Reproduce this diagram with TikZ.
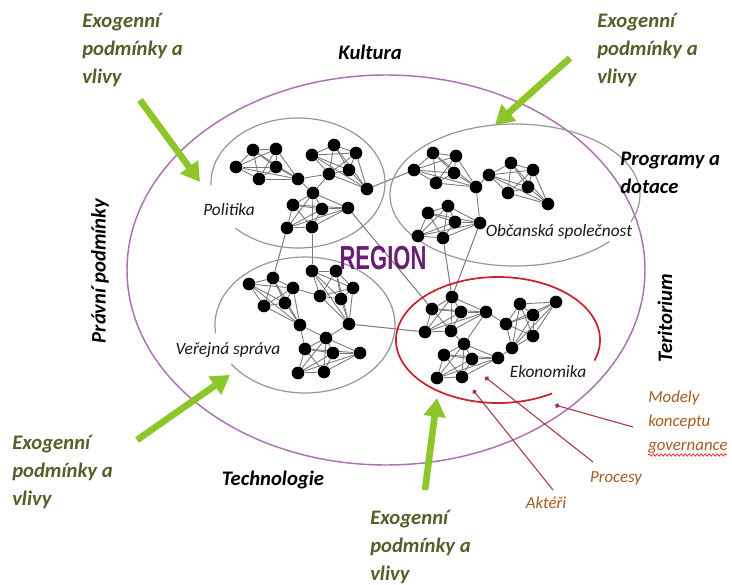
\documentclass[tikz,border=0pt]{standalone}
\usepackage{fontspec}
\setmainfont{Carlito}
\newfontfamily\regfont{Liberation Sans}
\usetikzlibrary{arrows.meta,backgrounds,decorations.pathmorphing}
\definecolor{purpl}{RGB}{172,112,182}
\definecolor{exogreen}{RGB}{82,96,42}
\definecolor{arrgreen}{RGB}{140,198,40}
\definecolor{meshgray}{RGB}{120,120,120}
\definecolor{circgray}{RGB}{150,150,150}
\definecolor{ekored}{RGB}{200,35,45}
\definecolor{linkred}{RGB}{170,50,70}
\definecolor{brownlab}{RGB}{165,90,30}
\definecolor{regpurple}{RGB}{105,30,115}
\tikzset{
 dot/.style={circle,fill=black,inner sep=0pt,minimum size=9.5pt},
 mesh/.style={draw=meshgray,line width=0.65pt},
 bigmesh/.style={draw=meshgray,line width=0.75pt},
 grcirc/.style={draw=circgray,line width=0.9pt},
 exo/.style={text=exogreen,font=\fontsize{15.5}{21}\selectfont\bfseries\itshape,align=left,anchor=west,inner sep=0pt},
 blab/.style={text=black,font=\fontsize{15.5}{20.5}\selectfont\bfseries\itshape,inner sep=0pt},
 ilab/.style={text=black!90,font=\fontsize{13}{15}\selectfont\itshape,inner sep=0pt},
 rlab/.style={text=brownlab,font=\fontsize{12.6}{18}\selectfont\itshape,inner sep=0pt},
 garrow/.style={draw=arrgreen,line width=5pt,-{Triangle[length=14pt,width=16pt]}},
 rlink/.style={draw=linkred,line width=0.8pt,-{Circle[length=3.5pt]}},
}
\newcommand\meshcl[1]{%
 \foreach \i in {1,...,5}{%
   \pgfmathtruncatemacro\nxt{\i+1}%
   \foreach \j in {\nxt,...,6}{\draw[mesh] (#1\i) -- (#1\j);}}}
\begin{document}
\begin{tikzpicture}[x=0.75pt,y=-0.75pt]
\useasboundingbox (0,0) rectangle (732,585);

% big purple ellipse
\draw[purpl,line width=1.1pt] (386,270) ellipse [x radius=259, y radius=195];

% gray circles
\draw[grcirc] ([shift={(178:87 and 65)}]298,183) arc[start angle=178,end angle=496,x radius=87,y radius=65];
\draw[grcirc] ([shift={(173:90 and 68)}]305,325) arc[start angle=173,end angle=505,x radius=90,y radius=68];
\draw[grcirc] ([shift={(41:125 and 71)}]515,195) arc[start angle=41,end angle=382,x radius=125,y radius=71];
% red ellipse
\draw[ekored,line width=1.3pt] ([shift={(58:102 and 63)}]498,340) arc[start angle=58,end angle=379,x radius=102,y radius=63];

% network nodes
\foreach \n/\x/\y in {pa1/253/150,pa2/276/149,pa3/236/167,pa4/276/167,pa5/259/179,pa6/298/179,
 pb1/334/145,pb2/312/155,pb3/356/153,pb4/349/170,pb5/329/174,pb6/367/189,
 pc1/313/193,pc2/293/205,pc3/322/209,pc4/348/208,pc5/287/228,pc6/312/227,
 oa1/433/153,oa2/456/156,oa3/414/170,oa4/454/173,oa5/436/183,oa6/476/187,
 ob1/511/163,ob2/533/170,ob3/489/175,ob4/528/187,ob5/508/193,ob6/548/204,
 oc1/448/206,oc2/428/213,oc3/455/222,oc4/480/223,oc5/418/236,oc6/443/238,
 va1/249/284,va2/273/278,va3/293/288,va4/264/306,va5/285/303,va6/300/325,
 vb1/312/271,vb2/336/271,vb3/353/288,vb4/320/296,vb5/341/299,vb6/349/324,
 vc1/326/338,vc2/305/349,vc3/333/353,vc4/360/353,vc5/298/373,vc6/324/372,
 ea1/452/297,ea2/432/309,ea3/461/312,ea4/486/312,ea5/425/332,ea6/451/331,
 eb1/520/304,eb2/556/302,eb3/533/315,eb4/506/324,eb5/533/336,eb6/512/348,
 ec1/464/344,ec2/444/355,ec3/472/359,ec4/498/358,ec5/437/378,ec6/462/377}
 {\node[dot] (\n) at (\x,\y) {};}

\begin{scope}[on background layer]
 \foreach \c in {pa,pb,pc,oa,ob,oc,va,vb,vc,ea,eb,ec}{\meshcl{\c}}
 \foreach \a/\b in {pa6/pb5,pb5/pc1,pa6/pc1,oa6/ob3,oa6/oc4,va6/vc2,vb6/vc1,va3/vb4,va6/vc1,
   ea4/eb4,ea6/ec1,ec4/eb6,ea4/ec1}
   {\draw[mesh] (\a) -- (\b);}
 \foreach \a/\b in {pb6/oa3,pc5/va2,pc6/vb1,pc4/ea2,oc6/ea1,oc4/ea1,vb6/ea5}
   {\draw[bigmesh] (\a) -- (\b);}
\end{scope}

% labels
\node[regpurple,inner sep=0pt,font=\regfont\bfseries\fontsize{25}{25}\selectfont] (reg) at (383,258) {\scalebox{0.66}[1]{REGION}};
\node[ilab] (lpol) at (229,210) {Politika};
\node[ilab] (lobc) at (559,232) {Občanská společnost};
\node[ilab] (lver) at (228,350) {Veřejná správa};
\node[ilab] (leko) at (548,372) {Ekonomika};

\node[blab] (kult) at (370,52) {Kultura};
\node[blab,align=left,anchor=west] (prog) at (620,173) {Programy a\\dotace};
\node[blab,rotate=90] (prav) at (100,271) {Právní podmínky};
\node[blab,rotate=90] (teri) at (665,318) {Teritorium};
\node[blab] (tech) at (273,480) {Technologie};

\node[exo] (ex1) at (82,50) {Exogenní\\podmínky a\\vlivy};
\node[exo] (ex2) at (597,50) {Exogenní\\podmínky a\\vlivy};
\node[exo] (ex3) at (12,472) {Exogenní\\podmínky a\\vlivy};
\node[exo] (ex4) at (370,547) {Exogenní\\podmínky a\\vlivy};

% green arrows
\coordinate (g1a) at (140,100); \coordinate (g1b) at (200,182);
\coordinate (g2a) at (570,58);  \coordinate (g2b) at (495,125);
\coordinate (g3a) at (137,440); \coordinate (g3b) at (230,375);
\coordinate (g4a) at (425,490); \coordinate (g4b) at (437,398);
\draw[garrow] (g1a) -- (g1b);
\draw[garrow] (g2a) -- (g2b);
\draw[garrow] (g3a) -- (g3b);
\draw[garrow] (g4a) -- (g4b);

% red labels and links
\node[rlab,align=left,anchor=west] (mod) at (648,422) {Modely\\konceptu\\governance};
\node[rlab] (proc) at (616,478) {Procesy};
\node[rlab] (akt) at (546,503) {Aktéři};
\draw[red,line width=0.5pt,decorate,decoration={snake,amplitude=0.8pt,segment length=3pt}] (648,455) -- (727,455);
\coordinate (m1) at (633,427); \coordinate (m2) at (555,405);
\coordinate (p1) at (593,462); \coordinate (p2) at (485,377);
\coordinate (k1) at (553,490); \coordinate (k2) at (473,390);
\draw[rlink] (m1) -- (m2);
\draw[rlink] (p1) -- (p2);
\draw[rlink] (k1) -- (k2);
\end{tikzpicture}
\end{document}
